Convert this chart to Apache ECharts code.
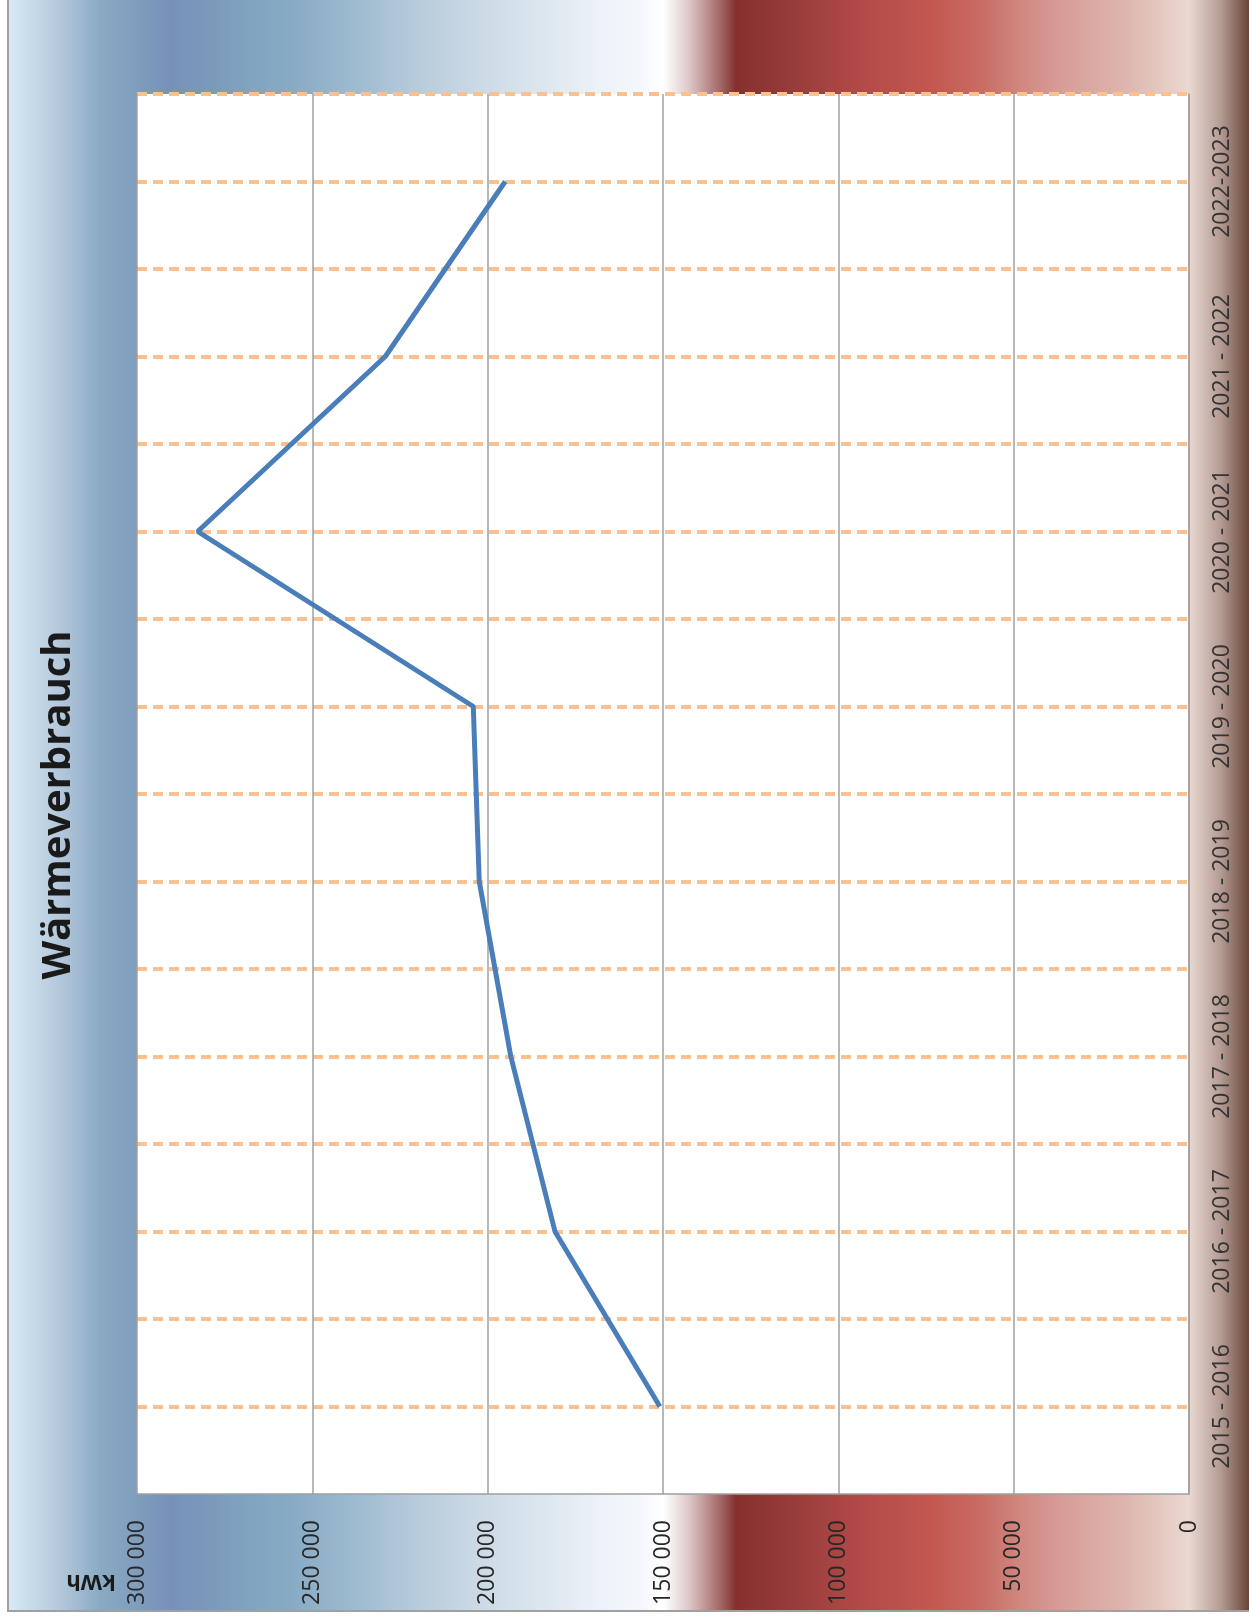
<!DOCTYPE html>
<html>
<head>
<meta charset="utf-8">
<script src="https://cdn.jsdelivr.net/npm/echarts@6/dist/echarts.min.js"></script>
<style>
html,body{margin:0;padding:0;background:#fff;overflow:hidden;width:1249px;height:1620px;}
#wrap{position:absolute;left:7px;top:0;width:1240px;height:1610px;border-left:2px solid #a0a0a0;border-bottom:2px solid #a0a0a0;}
#chart{width:1240px;height:1610px;}
</style>
</head>
<body>
<div id="wrap"><div id="chart"></div></div>
<script>
// ---- data ----
const titleText = 'Wärmeverbrauch';
const unitText = 'kWh';
const categories = ['2015 - 2016','2016 - 2017','2017 - 2018','2018 - 2019','2019 - 2020','2020 - 2021','2021 - 2022','2022-2023'];
const heatValues = [150900, 180800, 193400, 202400, 204100, 282700, 229200, 195000];
const valueMin = 0;
const valueMax = 300000;
const valueStep = 50000;
// half-band helper axis (gridlines at band edges and centres)
const halfBands = categories.flatMap((c, i) => [c + ' a', c + ' b']);

const bgStops = [
  [0.000,'#d8eaf5'],[0.017,'#c8dcea'],[0.041,'#b4c8dc'],[0.073,'#8aaac4'],[0.106,'#7e9cbc'],
  [0.131,'#7890b8'],[0.170,'#7c9cbc'],[0.202,'#82a6c2'],[0.227,'#88aac4'],[0.283,'#a0bcd0'],
  [0.331,'#b8ccdc'],[0.380,'#ccdae6'],[0.428,'#dce6ee'],[0.477,'#ecf2f8'],[0.509,'#f4f8fc'],
  [0.528,'#ffffff'],[0.549,'#dcc6c6'],[0.565,'#b88888'],[0.577,'#9a5a58'],[0.586,'#86302e'],
  [0.631,'#963c3a'],[0.687,'#b24a48'],[0.745,'#c45850'],[0.784,'#c86c64'],[0.816,'#d08880'],
  [0.848,'#d89c98'],[0.897,'#dcb4ac'],[0.952,'#ead8d0'],[0.960,'#d8c6be'],[0.977,'#b49c94'],
  [1.000,'#6a4438']
];

const chart = echarts.init(document.getElementById('chart'));
const fontFam = '"Open Sans", "DejaVu Sans", sans-serif';
chart.setOption({
  animation: false,
  backgroundColor: {
    type: 'linear', x: 0, y: 0, x2: 1, y2: 0,
    colorStops: bgStops.map(s => ({offset: s[0], color: s[1]}))
  },
  grid: {
    left: 128, right: 60, top: 94, bottom: 116,
    show: true, backgroundColor: '#ffffff', borderWidth: 0
  },
  graphic: [
    {
      type: 'text', x: 50, y: 805, rotation: Math.PI / 2,
      style: {text: titleText, font: 'bold 40px ' + fontFam, fill: '#1a1a1a', align: 'center', verticalAlign: 'middle'}
    },
    {
      type: 'text', x: 82, y: 1581, rotation: Math.PI,
      style: {text: unitText, font: 'bold 22px ' + fontFam, fill: '#1a1a1a', align: 'center', verticalAlign: 'middle'}
    }
  ],
  xAxis: {
    type: 'value', inverse: true, position: 'bottom',
    min: valueMin, max: valueMax, interval: valueStep,
    axisLine: {show: true, lineStyle: {color: '#a0a0a0', width: 1.5}},
    axisTick: {show: false},
    axisLabel: {
      rotate: 90, margin: 26, fontSize: 23, fontFamily: fontFam, color: '#262626',
      formatter: v => String(v).replace(/\B(?=(\d{3})+(?!\d))/g, ' ')
    },
    splitLine: {show: true, lineStyle: {color: '#a0a0a0', width: 1.5}}
  },
  yAxis: [
    {
      type: 'category', position: 'right', data: categories, boundaryGap: true,
      axisLine: {show: true, lineStyle: {color: '#a0a0a0', width: 1.5}},
      axisTick: {show: false},
      axisLabel: {rotate: 90, margin: 22, fontSize: 23, fontFamily: fontFam, color: '#333333', interval: 0},
      splitLine: {show: false}
    },
    {
      type: 'category', position: 'left', data: halfBands, boundaryGap: true,
      axisLine: {show: false}, axisTick: {show: false}, axisLabel: {show: false},
      splitLine: {show: true, interval: 0, showMinLine: false, showMaxLine: true,
        lineStyle: {color: '#fac090', width: 4, type: [10, 6]}}
    }
  ],
  series: [{
    type: 'line', yAxisIndex: 0, data: heatValues.map((v, i) => [v, categories[i]]),
    showSymbol: false, symbol: 'none',
    lineStyle: {color: '#4a7ebb', width: 5},
    z: 5
  }]
});
</script>
</body>
</html>
